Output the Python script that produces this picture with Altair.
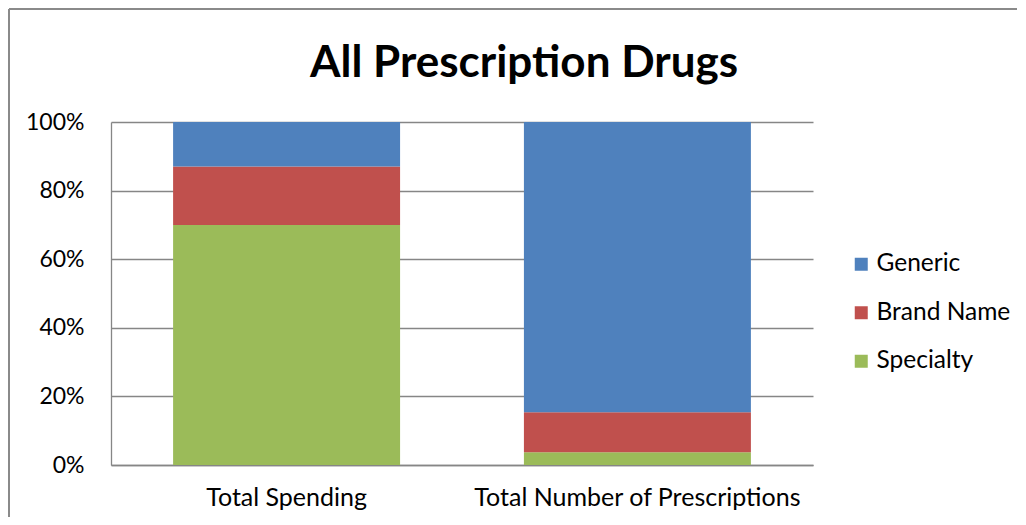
import altair as alt
import pandas as pd

categories = ["Total Spending", "Total Number of Prescriptions"]
series = ["Generic", "Brand Name", "Specialty"]
generic = [0.130, 0.846]
brand_name = [0.170, 0.117]
specialty = [0.700, 0.037]
colors = ["#4F81BD", "#C0504D", "#9BBB59"]
y_ticks = [0, 0.2, 0.4, 0.6, 0.8, 1.0]

rows = []
for i, c in enumerate(categories):
    rows.append({"category": c, "series": "Specialty", "value": specialty[i], "stackorder": 0})
    rows.append({"category": c, "series": "Brand Name", "value": brand_name[i], "stackorder": 1})
    rows.append({"category": c, "series": "Generic", "value": generic[i], "stackorder": 2})
df = pd.DataFrame(rows)

FONT = "Lato"

bars = alt.Chart(df).mark_bar().encode(
    x=alt.X("category:N", sort=categories, title=None,
            scale=alt.Scale(paddingInner=0.353, paddingOuter=0.177),
            axis=alt.Axis(labelAngle=0, ticks=False, labelFontSize=25, labelPadding=20,
                          labelLimit=0, labelFont=FONT, labelColor="#000000",
                          domainColor="#868686", domainWidth=1.3)),
    y=alt.Y("value:Q", stack="zero", title=None,
            scale=alt.Scale(domain=[0, 1], nice=False),
            axis=alt.Axis(values=y_ticks, format=".0%", ticks=False, labelFontSize=23,
                          labelPadding=27, labelFont=FONT, labelColor="#000000",
                          domainColor="#868686", domainWidth=1.3,
                          gridColor="#868686", gridWidth=1.3)),
    color=alt.Color("series:N", scale=alt.Scale(domain=series, range=colors),
                    legend=alt.Legend(title=None, orient="none", legendX=738, legendY=130,
                                      symbolType="square", symbolSize=169,
                                      symbolStrokeWidth=0, labelFontSize=24.5,
                                      labelFont=FONT, labelColor="#000000",
                                      labelOffset=3, labelLimit=0,
                                      rowPadding=23.5, padding=0)),
    order=alt.Order("stackorder:Q"),
)

frame_left = alt.Chart(df).mark_rule(color="#8a8a8a", strokeWidth=1.5).encode(
    x=alt.value(-102), y=alt.value(-113), y2=alt.value(395))
frame_top = alt.Chart(df).mark_rule(color="#8a8a8a", strokeWidth=1.5).encode(
    x=alt.value(-102), x2=alt.value(906), y=alt.value(-113))

chart = alt.layer(bars, frame_left, frame_top).properties(
    width=702, height=343,
    padding={"left": 0, "top": 0, "right": 0, "bottom": 0},
    title=alt.TitleParams("All Prescription Drugs", font=FONT, fontSize=44,
                          fontWeight="bold", color="#000000", anchor="middle",
                          offset=-78, dx=62),
).configure_view(stroke=None).configure_axis(grid=True).configure_axisX(grid=False)

chart.save("out.html", embed_options={"renderer": "svg", "actions": False})
